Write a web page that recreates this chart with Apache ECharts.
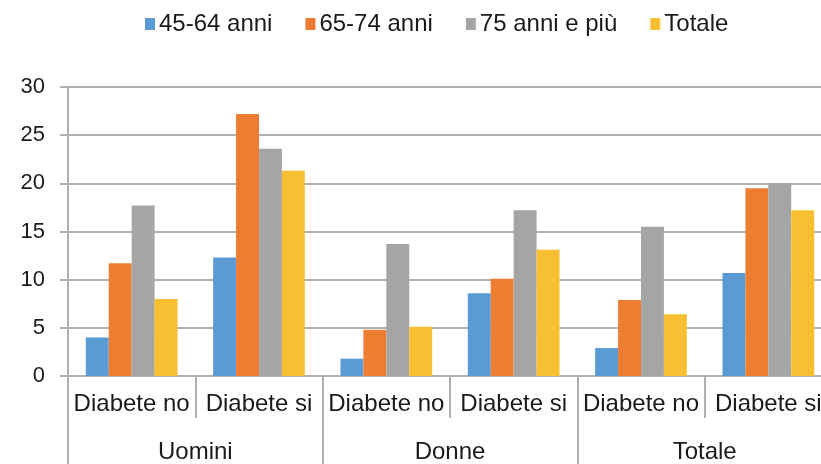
<!DOCTYPE html>
<html>
<head>
<meta charset="utf-8">
<script src="https://cdn.jsdelivr.net/npm/echarts@6/dist/echarts.min.js"></script>
<style>
  html, body { margin: 0; padding: 0; background: #fff; }
  #chart { width: 821px; height: 464px; }
</style>
</head>
<body>
<div id="chart"></div>
<script>
// dati
const categorie = ['Diabete no', 'Diabete si', 'Diabete no', 'Diabete si', 'Diabete no', 'Diabete si'];
const gruppi = ['Uomini', 'Donne', 'Totale'];
const eta4564 = [4.0, 12.3, 1.8, 8.6, 2.9, 10.7];
const eta6574 = [11.7, 27.2, 4.8, 10.1, 7.9, 19.5];
const eta75 = [17.7, 23.6, 13.7, 17.2, 15.5, 20.0];
const totale = [8.0, 21.3, 5.1, 13.1, 6.4, 17.2];

const font = 'Liberation Sans, Arial, sans-serif';
const grigio = '#b0b0b0';

const chart = echarts.init(document.getElementById('chart'));

function serie(name, data, color) {
  return {
    name: name,
    type: 'bar',
    data: data,
    xAxisIndex: 0,
    barGap: '0%',
    barCategoryGap: '28%',
    itemStyle: { color: color }
  };
}

const option = {
  animation: false,
  textStyle: { fontFamily: font },
  legend: {
    left: 140,
    top: 7,
    itemWidth: 10,
    itemHeight: 12,
    itemGap: 33,
    icon: 'rect',
    textStyle: { fontSize: 24, color: '#1a1a1a', fontFamily: font, padding: [0, 0, 0, -1] }
  },
  // il grafico originale è tagliato a destra: l'area del grafico esce dal canvas
  grid: {
    left: 68,
    width: 764,
    top: 87,
    bottom: 88,
    outerBoundsMode: 'none'
  },
  xAxis: [
    {
      type: 'category',
      data: categorie,
      position: 'bottom',
      axisLine: { lineStyle: { color: grigio, width: 2 } },
      axisTick: { show: true, length: 42, interval: 0, lineStyle: { color: grigio, width: 2 } },
      axisLabel: { interval: 0, margin: 16, fontSize: 24, color: '#1a1a1a', fontFamily: font }
    },
    {
      // secondo livello: gruppi
      type: 'category',
      data: gruppi,
      position: 'bottom',
      axisLine: { show: false },
      axisTick: { show: true, length: 95, interval: 0, lineStyle: { color: grigio, width: 2 } },
      axisLabel: { interval: 0, margin: 64, fontSize: 24, color: '#1a1a1a', fontFamily: font }
    }
  ],
  yAxis: {
    type: 'value',
    min: 0,
    max: 30,
    interval: 5,
    axisLine: { show: true, lineStyle: { color: grigio, width: 2 } },
    axisTick: { show: true, length: 8, lineStyle: { color: grigio, width: 2 } },
    splitLine: { lineStyle: { color: grigio, width: 2 } },
    axisLabel: { margin: 23, fontSize: 22, color: '#1a1a1a', fontFamily: font }
  },
  series: [
    serie('45-64 anni', eta4564, '#5b9bd5'),
    serie('65-74 anni', eta6574, '#ed7d31'),
    serie('75 anni e più', eta75, '#a5a5a5'),
    serie('Totale', totale, '#f8bf32')
  ]
};

chart.setOption(option);
</script>
</body>
</html>
